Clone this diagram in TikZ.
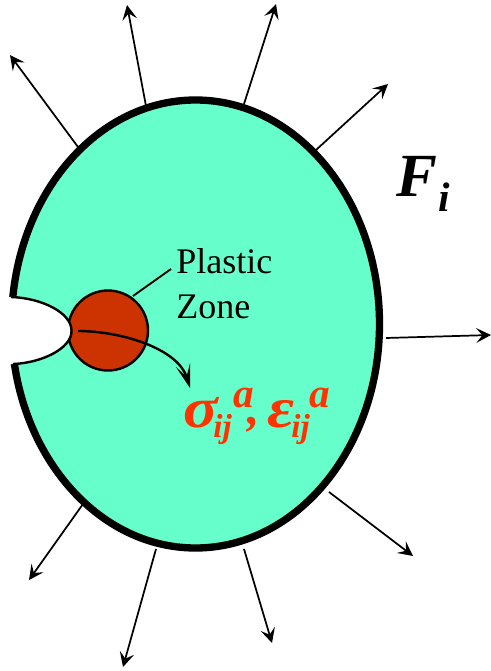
\documentclass[tikz,border=0pt]{standalone}
\usepackage{fontspec}
\usepackage{graphicx}
\setmainfont{Liberation Serif}
\usetikzlibrary{arrows.meta,shapes.geometric}
\definecolor{bodyfill}{RGB}{102,255,204}
\definecolor{zonefill}{RGB}{204,51,0}
\definecolor{labelred}{RGB}{255,51,0}
\tikzset{
 x=0.75pt,y=-0.75pt,
 bodyshape/.style={draw=black,line width=5.5pt,fill=bodyfill,ellipse,minimum width=276pt,minimum height=336pt,inner sep=0pt},
 zoneshape/.style={draw=black,line width=1.8pt,fill=zonefill,circle,minimum size=60pt,inner sep=0pt},
 force/.style={draw=black,line width=1.3pt,-{Stealth[length=11pt,width=11pt,inset=4.5pt]}},
 txt/.style={inner sep=0pt,font=\fontsize{27}{27}\selectfont,anchor=base west},
 redbig/.style={inner sep=0pt,anchor=base west,text=labelred,font=\bfseries\itshape\fontsize{43}{43}\selectfont},
 redsub/.style={inner sep=0pt,anchor=base west,text=labelred,font=\bfseries\itshape\fontsize{25}{25}\selectfont},
 redsup/.style={inner sep=0pt,anchor=base west,text=labelred,font=\bfseries\itshape\fontsize{31}{31}\selectfont},
}
\begin{document}
\begin{tikzpicture}
\useasboundingbox (0,0) rectangle (491,671);
\node[bodyshape] (body) at (195.5,324) {};
% zone, then crack on top
\node[zoneshape] (zone) at (108,330.5) {};
\fill[white] (5,296) -- (11,297) .. controls (42,298) and (72,313) .. (71.5,331)
  .. controls (72,348) and (42,363) .. (13,364) -- (5,364) -- cycle;
\draw[line width=1.8pt] (11,297) .. controls (42,298) and (72,313) .. (71.5,331)
  .. controls (72,348) and (42,363) .. (13,364);
% labels
\node[txt] (plastic) at (176,273) {Plastic};
\node[txt] (plzone) at (176,318) {Zone};
\node[inner sep=0pt,anchor=base west,font=\bfseries\itshape\fontsize{46}{46}\selectfont] (force) at (396,196) {F};
\node[inner sep=0pt,anchor=base west,font=\bfseries\itshape\fontsize{31}{31}\selectfont] (forcei) at (438,211) {i};
\node[redbig] (sig) at (183,427) {\scalebox{1.12}[1]{σ}};
\node[redsub] (sigij) at (213,437) {ij};
\node[redsup] (siga) at (233,407) {a};
\node[redsup,font=\bfseries\itshape\fontsize{37}{37}\selectfont] (comma) at (247,424) {,};
\node[redbig] (eps) at (267,427) {\scalebox{1.15}[1]{ε}};
\node[redsub] (epsij) at (291,437) {ij};
\node[redsup] (epsa) at (309,407) {a};
% leader
\coordinate (leadA) at (133,296);
\coordinate (leadB) at (171,269);
\draw[line width=1.4pt] (leadA) -- (leadB);
% path arrow
\coordinate (pathA) at (78,331);
\coordinate (pathB) at (190,388);
\draw[line width=1.8pt,-{Stealth[length=18pt,width=11pt,inset=9pt]}] (pathA) .. controls (120,331) and (178,348) .. (pathB);
% force arrows
\foreach \n/\ax/\ay/\bx/\by in {1/146/106/127/5,2/78/147/10/55,3/244/104/276/4,4/316/150/388/84,5/386/338/491/335,6/329/492/413/556,7/244/549/272/643,8/156/549/123/667,9/83/504/29/580}{
  \coordinate (s\n) at (\ax,\ay);
  \coordinate (e\n) at (\bx,\by);
  \draw[force] (s\n) -- (e\n);
}
\end{tikzpicture}
\end{document}
